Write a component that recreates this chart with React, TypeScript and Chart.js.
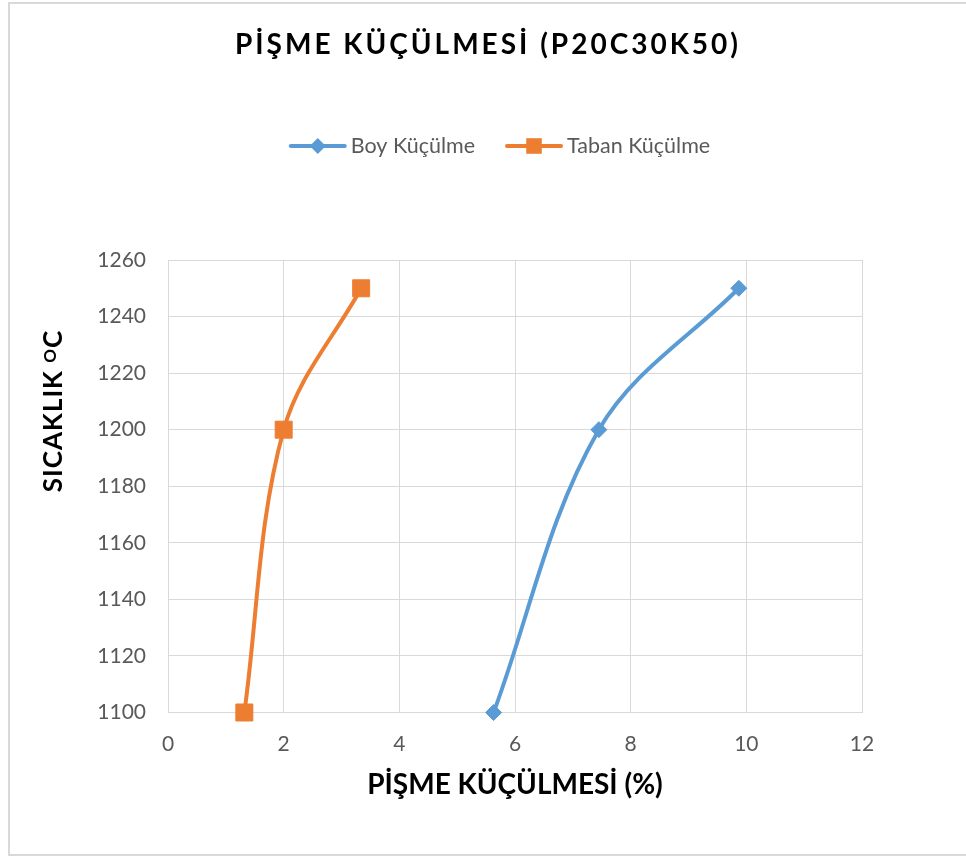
import React, { useEffect, useRef } from "react";
import { Chart, registerables } from "chart.js";

Chart.register(...registerables);

const CHART_TITLE = "PİŞME KÜÇÜLMESİ (P20C30K50)";
const X_TITLE = "PİŞME KÜÇÜLMESİ (%)";
const Y_TITLE_MAIN = "SICAKLIK ";
const Y_TITLE_SUP = "O";
const Y_TITLE_END = "C";

const seriesNames = ["Boy Küçülme", "Taban Küçülme"];
const temperatures = [1100, 1200, 1250];
const boyShrinkage = [5.63, 7.45, 9.87];
const tabanShrinkage = [1.32, 2.0, 3.34];
const xRange = [0, 12];
const xStep = 2;
const yRange = [1100, 1260];
const yStep = 20;

const BLUE = "#5B9BD5";
const ORANGE = "#ED7D31";
const TICK_COLOR = "#595959";
const GRID = "#d9d9d9";

function drawMarker(ctx: CanvasRenderingContext2D, style: string, x: number, y: number, r: number, color: string) {
  ctx.save();
  ctx.fillStyle = color;
  ctx.beginPath();
  if (style === "rectRot") {
    ctx.moveTo(x, y - r);
    ctx.lineTo(x + r, y);
    ctx.lineTo(x, y + r);
    ctx.lineTo(x - r, y);
    ctx.closePath();
  } else {
    const s = r * Math.SQRT1_2;
    ctx.rect(x - s, y - s, 2 * s, 2 * s);
  }
  ctx.fill();
  ctx.restore();
}

const decorPlugin = {
  id: "decor",
  beforeDraw(chart: any) {
    const ctx: CanvasRenderingContext2D = chart.ctx;
    ctx.save();
    ctx.fillStyle = "#ffffff";
    ctx.fillRect(0, 0, chart.width, chart.height);
    ctx.strokeStyle = GRID;
    ctx.lineWidth = 2;
    ctx.strokeRect(9, 3, 1000, 852);
    ctx.restore();
  },
  afterDraw(chart: any) {
    const ctx: CanvasRenderingContext2D = chart.ctx;
    // Title
    ctx.save();
    ctx.font = "bold 28px Lato";
    (ctx as any).letterSpacing = "3px";
    ctx.fillStyle = "#000000";
    ctx.textAlign = "center";
    ctx.textBaseline = "middle";
    ctx.fillText(CHART_TITLE, 488, 45);
    ctx.restore();

    // Legend
    ctx.save();
    ctx.font = "21.5px Lato";
    ctx.textBaseline = "middle";
    ctx.textAlign = "left";
    const lineLen = 54;
    const textGap = 6;
    const itemGap = 32;
    const ly = 146;
    const items = chart.data.datasets.map((ds: any) => ({
      label: ds.label,
      color: ds.borderColor,
      style: ds.pointStyle,
      w: lineLen + textGap + ctx.measureText(ds.label).width,
    }));
    const total = items.reduce((a: number, it: any) => a + it.w, 0) + itemGap * (items.length - 1);
    let x = 500.5 - total / 2;
    for (const it of items) {
      ctx.strokeStyle = it.color;
      ctx.lineWidth = 4;
      ctx.lineCap = "round";
      ctx.beginPath();
      ctx.moveTo(x, ly);
      ctx.lineTo(x + lineLen, ly);
      ctx.stroke();
      drawMarker(ctx, it.style, x + lineLen / 2, ly, it.style === "rectRot" ? 8 : 11, it.color);
      ctx.fillStyle = TICK_COLOR;
      ctx.fillText(it.label, x + lineLen + textGap, ly);
      x += it.w + itemGap;
    }
    ctx.restore();

    // Y axis title with superscript
    ctx.save();
    ctx.translate(54, 411);
    ctx.rotate(-Math.PI / 2);
    ctx.fillStyle = "#000000";
    ctx.textBaseline = "middle";
    ctx.textAlign = "left";
    (ctx as any).letterSpacing = "1px";
    const mainFont = "bold 26px Lato";
    const supFont = "bold 17px Lato";
    ctx.font = mainFont;
    const w1 = ctx.measureText(Y_TITLE_MAIN).width;
    const w3 = ctx.measureText(Y_TITLE_END).width;
    ctx.font = supFont;
    const w2 = ctx.measureText(Y_TITLE_SUP).width;
    let tx = -(w1 + w2 + w3) / 2;
    ctx.font = mainFont;
    ctx.fillText(Y_TITLE_MAIN, tx, 0);
    tx += w1;
    ctx.font = supFont;
    ctx.fillText(Y_TITLE_SUP, tx, -3);
    tx += w2;
    ctx.font = mainFont;
    ctx.fillText(Y_TITLE_END, tx, 0);
    ctx.restore();
  },
};

export default function App() {
  const canvasRef = useRef<HTMLCanvasElement | null>(null);

  useEffect(() => {
    const canvas = canvasRef.current;
    if (!canvas) return;
    const toPoints = (xs: number[]) => xs.map((v, i) => ({ x: v, y: temperatures[i] }));
    const chart = new Chart(canvas, {
      type: "scatter",
      data: {
        datasets: [
          {
            label: seriesNames[0],
            data: toPoints(boyShrinkage),
            showLine: true,
            tension: 0.35,
            clip: false,
            borderColor: BLUE,
            backgroundColor: BLUE,
            borderWidth: 4,
            pointStyle: "rectRot",
            pointRadius: 8,
            pointBorderWidth: 1,
          },
          {
            label: seriesNames[1],
            data: toPoints(tabanShrinkage),
            showLine: true,
            tension: 0.35,
            clip: false,
            borderColor: ORANGE,
            backgroundColor: ORANGE,
            borderWidth: 4,
            pointStyle: "rect",
            pointRadius: 12,
            pointBorderWidth: 1,
          },
        ],
      },
      options: {
        responsive: false,
        animation: false,
        layout: { padding: { top: 260, right: 104, left: 0, bottom: 0 } },
        plugins: {
          legend: { display: false },
          title: { display: false },
          tooltip: { enabled: false },
        },
        scales: {
          x: {
            type: "linear",
            min: xRange[0],
            max: xRange[1],
            afterFit: (s: any) => {
              s.height = 146.5;
            },
            ticks: {
              stepSize: xStep,
              color: TICK_COLOR,
              font: { family: "Lato", size: 21 },
              padding: 19,
              callback: (v: any) => String(v),
            },
            grid: { color: GRID, lineWidth: 1, drawTicks: false },
            border: { color: GRID, width: 1 },
            title: {
              display: true,
              text: X_TITLE,
              color: "#000000",
              font: { family: "Lato", size: 28, weight: "bold" },
              padding: { top: 0, bottom: 57 },
            },
          },
          y: {
            type: "linear",
            min: yRange[0],
            max: yRange[1],
            afterFit: (s: any) => {
              s.width = 168;
            },
            ticks: {
              stepSize: yStep,
              color: TICK_COLOR,
              font: { family: "Lato", size: 21 },
              padding: 22,
              callback: (v: any) => String(v),
            },
            grid: { color: GRID, lineWidth: 1, drawTicks: false },
            border: { color: GRID, width: 1 },
          },
        },
      },
      plugins: [decorPlugin],
    } as any);
    return () => chart.destroy();
  }, []);

  return (
    <div style={{ position: "absolute", left: 0, top: 0, width: 966, height: 859, background: "#fff" }}>
      <canvas ref={canvasRef} width={966} height={859} />
    </div>
  );
}
